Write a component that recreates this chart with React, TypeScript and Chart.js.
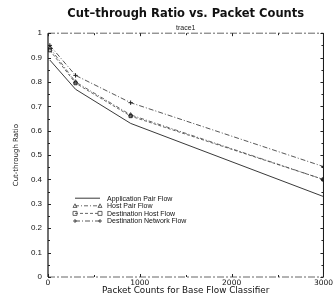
import React, { useEffect, useRef } from 'react';
import { Chart, registerables } from 'chart.js';

Chart.register(...registerables);

const packetCounts = [20, 300, 900, 3000];
const applicationPair = [0.89, 0.77, 0.63, 0.33];
const hostPair = [0.94, 0.8, 0.665, 0.4];
const destinationHost = [0.93, 0.795, 0.66, 0.4];
const destinationNetwork = [0.95, 0.827, 0.715, 0.453];
const seriesNames = [
  'Application Pair Flow',
  'Host Pair Flow',
  'Destination Host Flow',
  'Destination Network Flow',
];
const xTickValues = [0, 1000, 2000, 3000];
const yTickValues = [0, 0.1, 0.2, 0.3, 0.4, 0.5, 0.6, 0.7, 0.8, 0.9, 1];

const FONT = "'Liberation Sans', Arial, Helvetica, sans-serif";
const WIDE = "'DejaVu Sans', 'Liberation Sans', sans-serif";

const styles = [
  { color: '#222', dash: [] as number[], point: false as any },
  { color: '#555', dash: [4, 2, 1, 2], point: 'triangle' },
  { color: '#555', dash: [3, 2], point: 'rect' },
  { color: '#444', dash: [5, 2, 1, 2], point: 'cross' },
];

function drawMarker(ctx: CanvasRenderingContext2D, style: string, x: number, y: number, r: number) {
  ctx.beginPath();
  if (style === 'triangle') {
    ctx.moveTo(x, y - r);
    ctx.lineTo(x + r, y + r * 0.8);
    ctx.lineTo(x - r, y + r * 0.8);
    ctx.closePath();
  } else if (style === 'rect') {
    ctx.rect(x - r, y - r, 2 * r, 2 * r);
  } else if (style === 'cross') {
    ctx.moveTo(x - r, y);
    ctx.lineTo(x + r, y);
    ctx.moveTo(x, y - r);
    ctx.lineTo(x, y + r);
  }
  ctx.stroke();
}

const framePlugin = {
  id: 'frameAndLegend',
  afterDraw(chart: any) {
    const { ctx, chartArea } = chart;
    const { left, right, top, bottom } = chartArea;
    const xs = chart.scales.x;
    const ys = chart.scales.y;
    ctx.save();
    const seg = (x1: number, y1: number, x2: number, y2: number) => {
      ctx.beginPath();
      ctx.moveTo(x1, y1);
      ctx.lineTo(x2, y2);
      ctx.stroke();
    };
    ctx.setLineDash([]);
    ctx.strokeStyle = '#111';
    ctx.lineWidth = 1.2;
    seg(left, top, left, bottom);
    ctx.lineWidth = 1;
    seg(right, top, right, bottom);
    ctx.strokeStyle = '#666';
    ctx.setLineDash([7, 2, 2, 2]);
    seg(left, top, right, top);
    seg(left, bottom, right, bottom);
    ctx.setLineDash([]);
    ctx.strokeStyle = '#222';
    ctx.lineWidth = 1;
    for (let i = 0; i <= 20; i++) {
      const py = Math.round(ys.getPixelForValue(i * 0.05)) + 0.5;
      const len = i % 2 === 0 ? 3 : 2;
      seg(left, py, left + len, py);
      seg(right, py, right - len, py);
    }
    for (let i = 0; i <= 6; i++) {
      const px = Math.round(xs.getPixelForValue(i * 500)) + 0.5;
      const len = i % 2 === 0 ? 3 : 2;
      seg(px, bottom, px, bottom - len);
      seg(px, top, px, top + len);
    }
    const lx = left + 27;
    const ly = top + 165;
    ctx.font = `7px ${FONT}`;
    ctx.textBaseline = 'middle';
    ctx.textAlign = 'left';
    seriesNames.forEach((name, i) => {
      const st = styles[i];
      const yy = ly + i * 7.6;
      ctx.strokeStyle = st.color;
      ctx.lineWidth = 0.9;
      ctx.setLineDash(st.dash);
      seg(lx, yy, lx + 25, yy);
      ctx.setLineDash([]);
      if (st.point) {
        drawMarker(ctx, st.point, lx, yy, 2);
        drawMarker(ctx, st.point, lx + 25, yy, 2);
      }
      ctx.fillStyle = '#111';
      ctx.fillText(name, lx + 32, yy + 0.5);
    });
    ctx.restore();
  },
};

export default function App() {
  const ref = useRef<HTMLCanvasElement | null>(null);
  useEffect(() => {
    if (!ref.current) return;
    const seriesValues = [applicationPair, hostPair, destinationHost, destinationNetwork];
    const chart = new Chart(ref.current, {
      type: 'line',
      data: {
        datasets: seriesValues.map((vals, i) => ({
          label: seriesNames[i],
          data: vals.map((v, j) => ({ x: packetCounts[j], y: v })),
          borderColor: styles[i].color,
          borderWidth: 0.9,
          borderDash: styles[i].dash,
          backgroundColor: 'rgba(0,0,0,0)',
          pointStyle: styles[i].point,
          pointRadius: styles[i].point ? 2.2 : 0,
          pointBorderColor: '#222',
          pointBorderWidth: 1,
          pointBackgroundColor: 'rgba(0,0,0,0)',
          tension: 0,
        })),
      },
      plugins: [framePlugin],
      options: {
        animation: false,
        responsive: false,
        devicePixelRatio: 1,
        layout: { padding: { left: 10, right: 9, top: 0, bottom: 0 } },
        plugins: {
          legend: { display: false },
          tooltip: { enabled: false },
          title: {
            display: true,
            text: 'Cut\u2013through Ratio vs. Packet Counts',
            color: '#111',
            font: { family: WIDE, size: 11.5, weight: 'bold' },
            padding: { top: 7, bottom: 3 },
            fullSize: false,
          },
          subtitle: {
            display: true,
            text: 'trace1',
            color: '#222',
            font: { family: FONT, size: 7 },
            padding: { top: 0, bottom: 1 },
            fullSize: false,
          },
        },
        scales: {
          x: {
            type: 'linear',
            min: 0,
            max: 3000,
            afterBuildTicks: (s: any) => {
              s.ticks = xTickValues.map((v) => ({ value: v }));
            },
            afterFit: (s: any) => {
              s.height = 19;
            },
            grid: { display: false, drawTicks: false },
            border: { display: false },
            ticks: {
              color: '#111',
              font: { family: WIDE, size: 7.5 },
              padding: 2,
              maxRotation: 0,
              callback: (v: any) => String(v),
            },
            title: {
              display: true,
              text: 'Packet Counts for Base Flow Classifier',
              color: '#111',
              font: { family: WIDE, size: 8.8 },
              padding: { top: 0, bottom: 0 },
            },
          },
          y: {
            type: 'linear',
            min: 0,
            max: 1,
            afterBuildTicks: (s: any) => {
              s.ticks = yTickValues.map((v) => ({ value: v }));
            },
            afterFit: (s: any) => {
              s.width = 38;
            },
            grid: { display: false, drawTicks: false },
            border: { display: false },
            ticks: {
              color: '#111',
              font: { family: FONT, size: 8 },
              padding: 6,
              callback: (v: any) => String(Math.round(Number(v) * 10) / 10),
            },
            title: {
              display: true,
              text: 'Cut-through Ratio',
              color: '#111',
              font: { family: WIDE, size: 7 },
              padding: { top: 2, bottom: 0 },
            },
          },
        },
      } as any,
    });
    return () => chart.destroy();
  }, []);
  return (
    <div style={{ position: 'absolute', left: 0, top: 0, width: 335, height: 296, background: '#fff' }}>
      <canvas ref={ref} width={335} height={296} style={{ display: 'block' }} />
    </div>
  );
}
